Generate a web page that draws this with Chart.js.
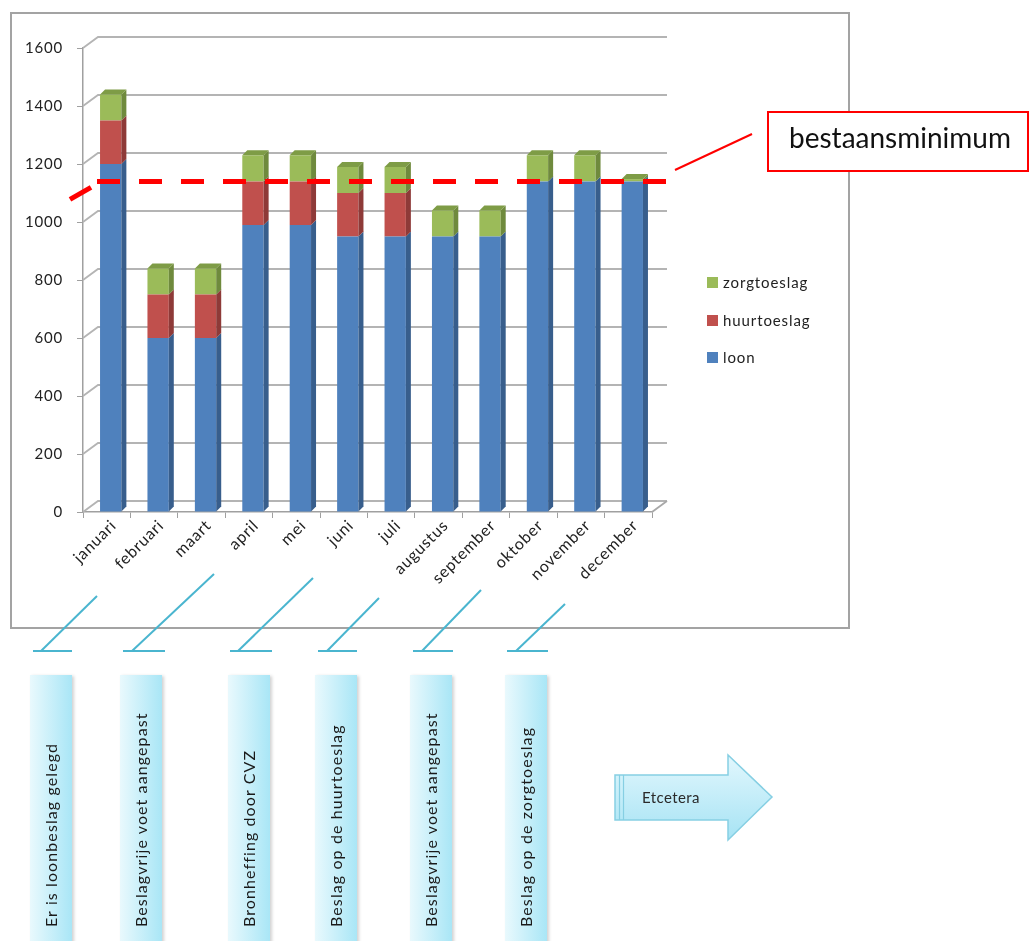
<!DOCTYPE html>
<html>
<head>
<meta charset="utf-8">
<script src="https://cdn.jsdelivr.net/npm/chart.js@4.4.1/dist/chart.umd.min.js"></script>
<style>
  body { margin: 0; width: 1030px; height: 941px; position: relative; background: #fff; overflow: hidden; font-family: Lato, 'Open Sans', sans-serif; }
  #kader { position: absolute; left: 10px; top: 12px; width: 836px; height: 613px; border: 2px solid #a3a3a3; }
  #grafiek { position: absolute; left: 0; top: 0; }
  #legenda { position: absolute; left: 706px; top: 275px; }
  .item { position: relative; height: 37.5px; font-size: 15px; color: #222; letter-spacing: 0.9px; }
  .item i { position: absolute; left: 1px; top: 2px; width: 11px; height: 11px; }
  .item span { position: absolute; left: 17px; top: -2px; line-height: 18px; }
  #minimum { position: absolute; left: 767px; top: 111px; width: 258px; height: 57px; border: 2px solid #ff0000; background: #fff; box-sizing: content-box; }
  #minimum span { position: absolute; left: 20px; top: 7px; font-size: 28px; color: #111; }
  #lijnen { position: absolute; left: 0; top: 0; }
  .vak { position: absolute; top: 675px; width: 42px; height: 270px; background: linear-gradient(to right, #e9f9fd, #a9e6f6); box-shadow: 2px 1px 3px rgba(0,0,0,0.18); }
  .vak span { position: absolute; top: 252px; white-space: nowrap; font-size: 16px; line-height: 20px; letter-spacing: 1.1px; color: #1a1a1a; transform-origin: 0 0; transform: rotate(-90deg); }
</style>
</head>
<body>
<div id="kader"></div>
<canvas id="grafiek" width="1030" height="941"></canvas>
<div id="legenda"></div>
<svg id="lijnen" width="1030" height="941">
  <defs>
    <linearGradient id="pijlkleur" x1="0" y1="0" x2="0" y2="1">
      <stop offset="0" stop-color="#e2f7fd"/>
      <stop offset="1" stop-color="#a6e3f4"/>
    </linearGradient>
  </defs>
  <line x1="675" y1="170" x2="752" y2="134" stroke="#ff0000" stroke-width="2"/>
  <g id="verwijzers" stroke="#4ab5cf" stroke-width="2"></g>
  <polygon points="615,775 728,775 728,755 772,797 728,840 728,820 615,820" fill="url(#pijlkleur)" stroke="#86cfe3" stroke-width="1.5"/>
  <line x1="619.5" y1="775" x2="619.5" y2="820" stroke="#86cfe3" stroke-width="1.2"/>
  <line x1="623.5" y1="775" x2="623.5" y2="820" stroke="#86cfe3" stroke-width="1.2"/>
  <text x="642" y="803" font-family="Lato" font-size="15" fill="#2a2a2a" letter-spacing="0.4">Etcetera</text>
</svg>
<div id="minimum"><span>bestaansminimum</span></div>
<script>
  var maanden = ['januari', 'februari', 'maart', 'april', 'mei', 'juni', 'juli', 'augustus', 'september', 'oktober', 'november', 'december'];
  var loon = [1200, 600, 600, 990, 990, 950, 950, 950, 950, 1140, 1140, 1140];
  var huurtoeslag = [150, 150, 150, 150, 150, 150, 150, 0, 0, 0, 0, 0];
  var zorgtoeslag = [90, 90, 90, 90, 90, 90, 90, 90, 90, 90, 90, 8];
  var yMin = 0, yMax = 1600, yStap = 200;
  var bestaansminimum = 1140;
  var gebeurtenissen = ['Er is loonbeslag gelegd', 'Beslagvrije voet aangepast', 'Bronheffing door CVZ', 'Beslag op de huurtoeslag', 'Beslagvrije voet aangepast', 'Beslag op de zorgtoeslag'];

  // layout of the annotation boxes below the chart (x of box left edge, pointer lines)
  var vakX = [30, 120, 228, 315, 410, 505];
  var verwijzers = [
    [33, 72, 41, 97, 596], [123, 165, 132, 214, 574], [230, 272, 238, 313, 578],
    [318, 357, 327, 379, 598], [413, 453, 422, 481, 590], [507, 548, 516, 565, 604]
  ];

  var DX = 15, DY = 11, SD = 5, SCHUIF = 4;

  var driedee = {
    id: 'driedee',
    beforeDraw: function(chart) {
      // the original axis text is set wide
      chart.ctx.letterSpacing = '0.8px';
    },
    beforeDatasetsDraw: function(chart) {
      var ctx = chart.ctx, a = chart.chartArea, y = chart.scales.y;
      ctx.save();
      ctx.strokeStyle = '#b4b4b4';
      ctx.lineWidth = 1.8;
      y.ticks.forEach(function(t) {
        var py = y.getPixelForValue(t.value);
        ctx.beginPath();
        ctx.moveTo(a.left, py);
        ctx.lineTo(a.left + DX, py - DY);
        ctx.lineTo(a.right + DX, py - DY);
        ctx.stroke();
      });
      ctx.strokeStyle = '#a8a8a8';
      ctx.beginPath();
      ctx.moveTo(a.right, a.bottom);
      ctx.lineTo(a.right + DX, a.bottom - DY);
      ctx.stroke();
      ctx.restore();
      ctx.save();
      ctx.translate(SCHUIF, 0);
    },
    afterDatasetsDraw: function(chart) {
      var ctx = chart.ctx, a = chart.chartArea;
      var sets = chart.data.datasets;
      sets.forEach(function(ds, i) {
        var meta = chart.getDatasetMeta(i);
        meta.data.forEach(function(bar, j) {
          if (!ds.data[j]) return;
          var p = bar.getProps(['x', 'y', 'base', 'width'], true);
          var r = p.x + p.width / 2, l = p.x - p.width / 2;
          ctx.fillStyle = ds.zijkant;
          ctx.beginPath();
          ctx.moveTo(r, p.y);
          ctx.lineTo(r + SD, p.y - SD);
          ctx.lineTo(r + SD, p.base - SD);
          ctx.lineTo(r, p.base);
          ctx.closePath();
          ctx.fill();
          var hoogste = true;
          for (var k = i + 1; k < sets.length; k++) if (sets[k].data[j]) hoogste = false;
          if (hoogste) {
            ctx.fillStyle = ds.bovenkant;
            ctx.beginPath();
            ctx.moveTo(l, p.y);
            ctx.lineTo(l + SD, p.y - SD);
            ctx.lineTo(r + SD, p.y - SD);
            ctx.lineTo(r, p.y);
            ctx.closePath();
            ctx.fill();
          }
        });
      });
      ctx.restore();

      // bestaansminimum
      var py = chart.scales.y.getPixelForValue(bestaansminimum);
      ctx.save();
      ctx.strokeStyle = '#ff0000';
      ctx.lineWidth = 5;
      ctx.beginPath();
      ctx.moveTo(a.left - 13, py + 18);
      ctx.lineTo(a.left + 8, py + 6);
      ctx.stroke();
      ctx.setLineDash([23, 19]);
      ctx.beginPath();
      ctx.moveTo(a.left + 14, py);
      ctx.lineTo(a.right + 16, py);
      ctx.stroke();
      ctx.restore();
    }
  };

  Chart.defaults.font.family = 'Lato';

  var grafiek = new Chart(document.getElementById('grafiek'), {
    type: 'bar',
    data: {
      labels: maanden,
      datasets: [
        { label: 'loon', data: loon, backgroundColor: '#4f81bd', zijkant: '#385e8c', bovenkant: '#4676b0' },
        { label: 'huurtoeslag', data: huurtoeslag, backgroundColor: '#c0504d', zijkant: '#8e3a38', bovenkant: '#a94541' },
        { label: 'zorgtoeslag', data: zorgtoeslag, backgroundColor: '#9bbb59', zijkant: '#6f8a3d', bovenkant: '#7e9c46' }
      ]
    },
    options: {
      responsive: false,
      animation: false,
      layout: { padding: { left: 10, top: 48, right: 378, bottom: 349 } },
      plugins: { legend: { display: false }, tooltip: { enabled: false } },
      datasets: { bar: { barPercentage: 0.45, categoryPercentage: 1 } },
      scales: {
        x: {
          stacked: true,
          grid: { drawOnChartArea: false, tickLength: 6, color: '#a0a0a0' },
          border: { color: '#a0a0a0', width: 1.5 },
          ticks: { autoSkip: false, minRotation: 45, maxRotation: 45, padding: -2, labelOffset: 7, color: '#222', font: { size: 16 } },
          afterFit: function(s) { s.height = 80; }
        },
        y: {
          stacked: true,
          min: yMin,
          max: yMax,
          grid: { drawOnChartArea: false, tickLength: 6, color: '#a0a0a0' },
          border: { color: '#a0a0a0', width: 1.5 },
          ticks: { stepSize: yStap, padding: 14, color: '#222', font: { size: 15 }, callback: function(v) { return String(v); } },
          afterFit: function(s) { s.width = 73; }
        }
      }
    },
    plugins: [driedee]
  });

  // legend, top item = last dataset
  var legenda = document.getElementById('legenda');
  grafiek.data.datasets.slice().reverse().forEach(function(ds) {
    var d = document.createElement('div');
    d.className = 'item';
    d.innerHTML = '<i style="background:' + ds.backgroundColor + '"></i><span>' + ds.label + '</span>';
    legenda.appendChild(d);
  });

  // event boxes and their pointers
  var g = document.getElementById('verwijzers');
  gebeurtenissen.forEach(function(tekst, i) {
    var v = document.createElement('div');
    v.className = 'vak';
    v.style.left = vakX[i] + 'px';
    v.innerHTML = '<span style="left:11px">' + tekst + '</span>';
    document.body.appendChild(v);
    var w = verwijzers[i];
    g.insertAdjacentHTML('beforeend',
      '<line x1="' + w[0] + '" y1="651" x2="' + w[1] + '" y2="651"/>' +
      '<line x1="' + w[2] + '" y1="651" x2="' + w[3] + '" y2="' + w[4] + '"/>');
  });
</script>
</body>
</html>
